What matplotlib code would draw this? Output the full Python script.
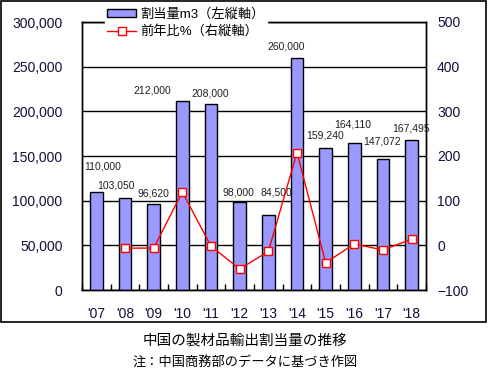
#!/usr/bin/env python3
"""China sawn wood export quota chart (bars + YoY line on twin axis)."""

import matplotlib
matplotlib.use('Agg')
import matplotlib.pyplot as plt
import numpy as np
from matplotlib.patches import Rectangle

plt.rcParams['font.family'] = ['Liberation Sans', 'Noto Sans CJK JP']

# Data
years = ["'07", "'08", "'09", "'10", "'11", "'12", "'13", "'14", "'15", "'16", "'17", "'18"]
quota = [110000, 103050, 96620, 212000, 208000, 98000, 84500, 260000, 159240, 164110, 147072, 167495]
quota_labels = ['110,000', '103,050', '96,620', '212,000', '208,000', '98,000', '84,500',
                '260,000', '159,240', '164,110', '147,072', '167,495']
yoy = [np.nan, -6.3, -6.2, 119.4, -1.9, -52.9, -13.8, 207.7, -38.8, 3.1, -10.4, 13.9]

# label offsets in pixels (dx, dy) from bar top centre
label_offsets = [(6, 25), (-9, 12), (0, 10), (-30, 10), (-1, 11), (-1, 10),
                 (8, 22), (-11, 11), (-1, 12), (-2, 19), (-1, 17), (-1, 12)]

BAR_COLOR = '#9999ff'
TICK_COLOR = '#10103a'

fig = plt.figure(figsize=(4.9, 3.71), dpi=100)
ax = fig.add_axes([82 / 490, 1 - 290 / 371, 344 / 490, 268 / 371])
ax2 = ax.twinx()

x = np.arange(len(years))
bars = ax.bar(x, quota, width=0.45, color=BAR_COLOR, edgecolor='black', linewidth=1,
              label='割当量m3（左縦軸）', zorder=3)
ax.set_xlim(-0.5, len(years) - 0.5)
ax.set_ylim(0, 300000)
ax.set_yticks(np.arange(0, 300001, 50000))
ax.set_yticklabels([f'{v:,}' for v in range(0, 300001, 50000)])
ax.grid(True, axis='y', color='black', linewidth=1, zorder=0)
ax.set_axisbelow(True)

# category boundaries get short inward ticks, labels sit at centres
ax.set_xticks(x)
ax.set_xticklabels(years)
ax.set_xticks(np.arange(-0.5, len(years)), minor=True)
ax.tick_params(axis='x', which='major', length=0, pad=12, labelsize=10, labelcolor=TICK_COLOR)
ax.tick_params(axis='x', which='minor', length=4, direction='in', width=1)
ax.tick_params(axis='y', length=0, pad=14, labelsize=10, labelcolor=TICK_COLOR)

for i, (v, txt) in enumerate(zip(quota, quota_labels)):
    dx, dy = label_offsets[i]
    ax.annotate(txt, (i, v), xytext=(dx, dy), textcoords='offset pixels',
                ha='center', va='center', fontsize=7.5, color='#202020', zorder=5)

line, = ax2.plot(x, yoy, color='red', linewidth=1, marker='s', markersize=5.5,
                 markerfacecolor='white', markeredgecolor='red', markeredgewidth=1,
                 label='前年比%（右縦軸）', zorder=4)
ax2.set_ylim(-100, 500)
ax2.set_yticks(np.arange(-100, 501, 100))
ax2.set_yticklabels(['\u2212100', '0', '100', '200', '300', '400', '500'])
ax2.tick_params(axis='y', length=0, pad=8, labelsize=10, labelcolor=TICK_COLOR)

for a in (ax, ax2):
    for s in a.spines.values():
        s.set_color('black')
        s.set_linewidth(1)

leg = ax2.legend([bars, line], ['割当量m3（左縦軸）', '前年比%（右縦軸）'],
                 loc='center', bbox_to_anchor=(186 / 490, 1 - 23 / 371),
                 bbox_transform=fig.transFigure, fontsize=9.5, frameon=True,
                 fancybox=False, edgecolor='white', framealpha=1,
                 handlelength=2.2, handleheight=0.6, handletextpad=0.3,
                 labelspacing=0.35, borderpad=0.15, borderaxespad=0)
leg.set_zorder(10)

# outer border
fig.patches.append(Rectangle((1 / 490, 1 - 322 / 371), 485 / 490, 321 / 371,
                             transform=fig.transFigure, fill=False,
                             edgecolor='black', linewidth=1.2))

fig.text(245 / 490, 1 - 341 / 371, '中国の製材品輸出割当量の推移',
         ha='center', va='center', fontsize=10.5, family='Noto Sans CJK JP')
fig.text(245 / 490, 1 - 362 / 371, '注：中国商務部のデータに基づき作図',
         ha='center', va='center', fontsize=9.5, family='Noto Sans CJK JP')

fig.savefig('out.png', dpi=100)
